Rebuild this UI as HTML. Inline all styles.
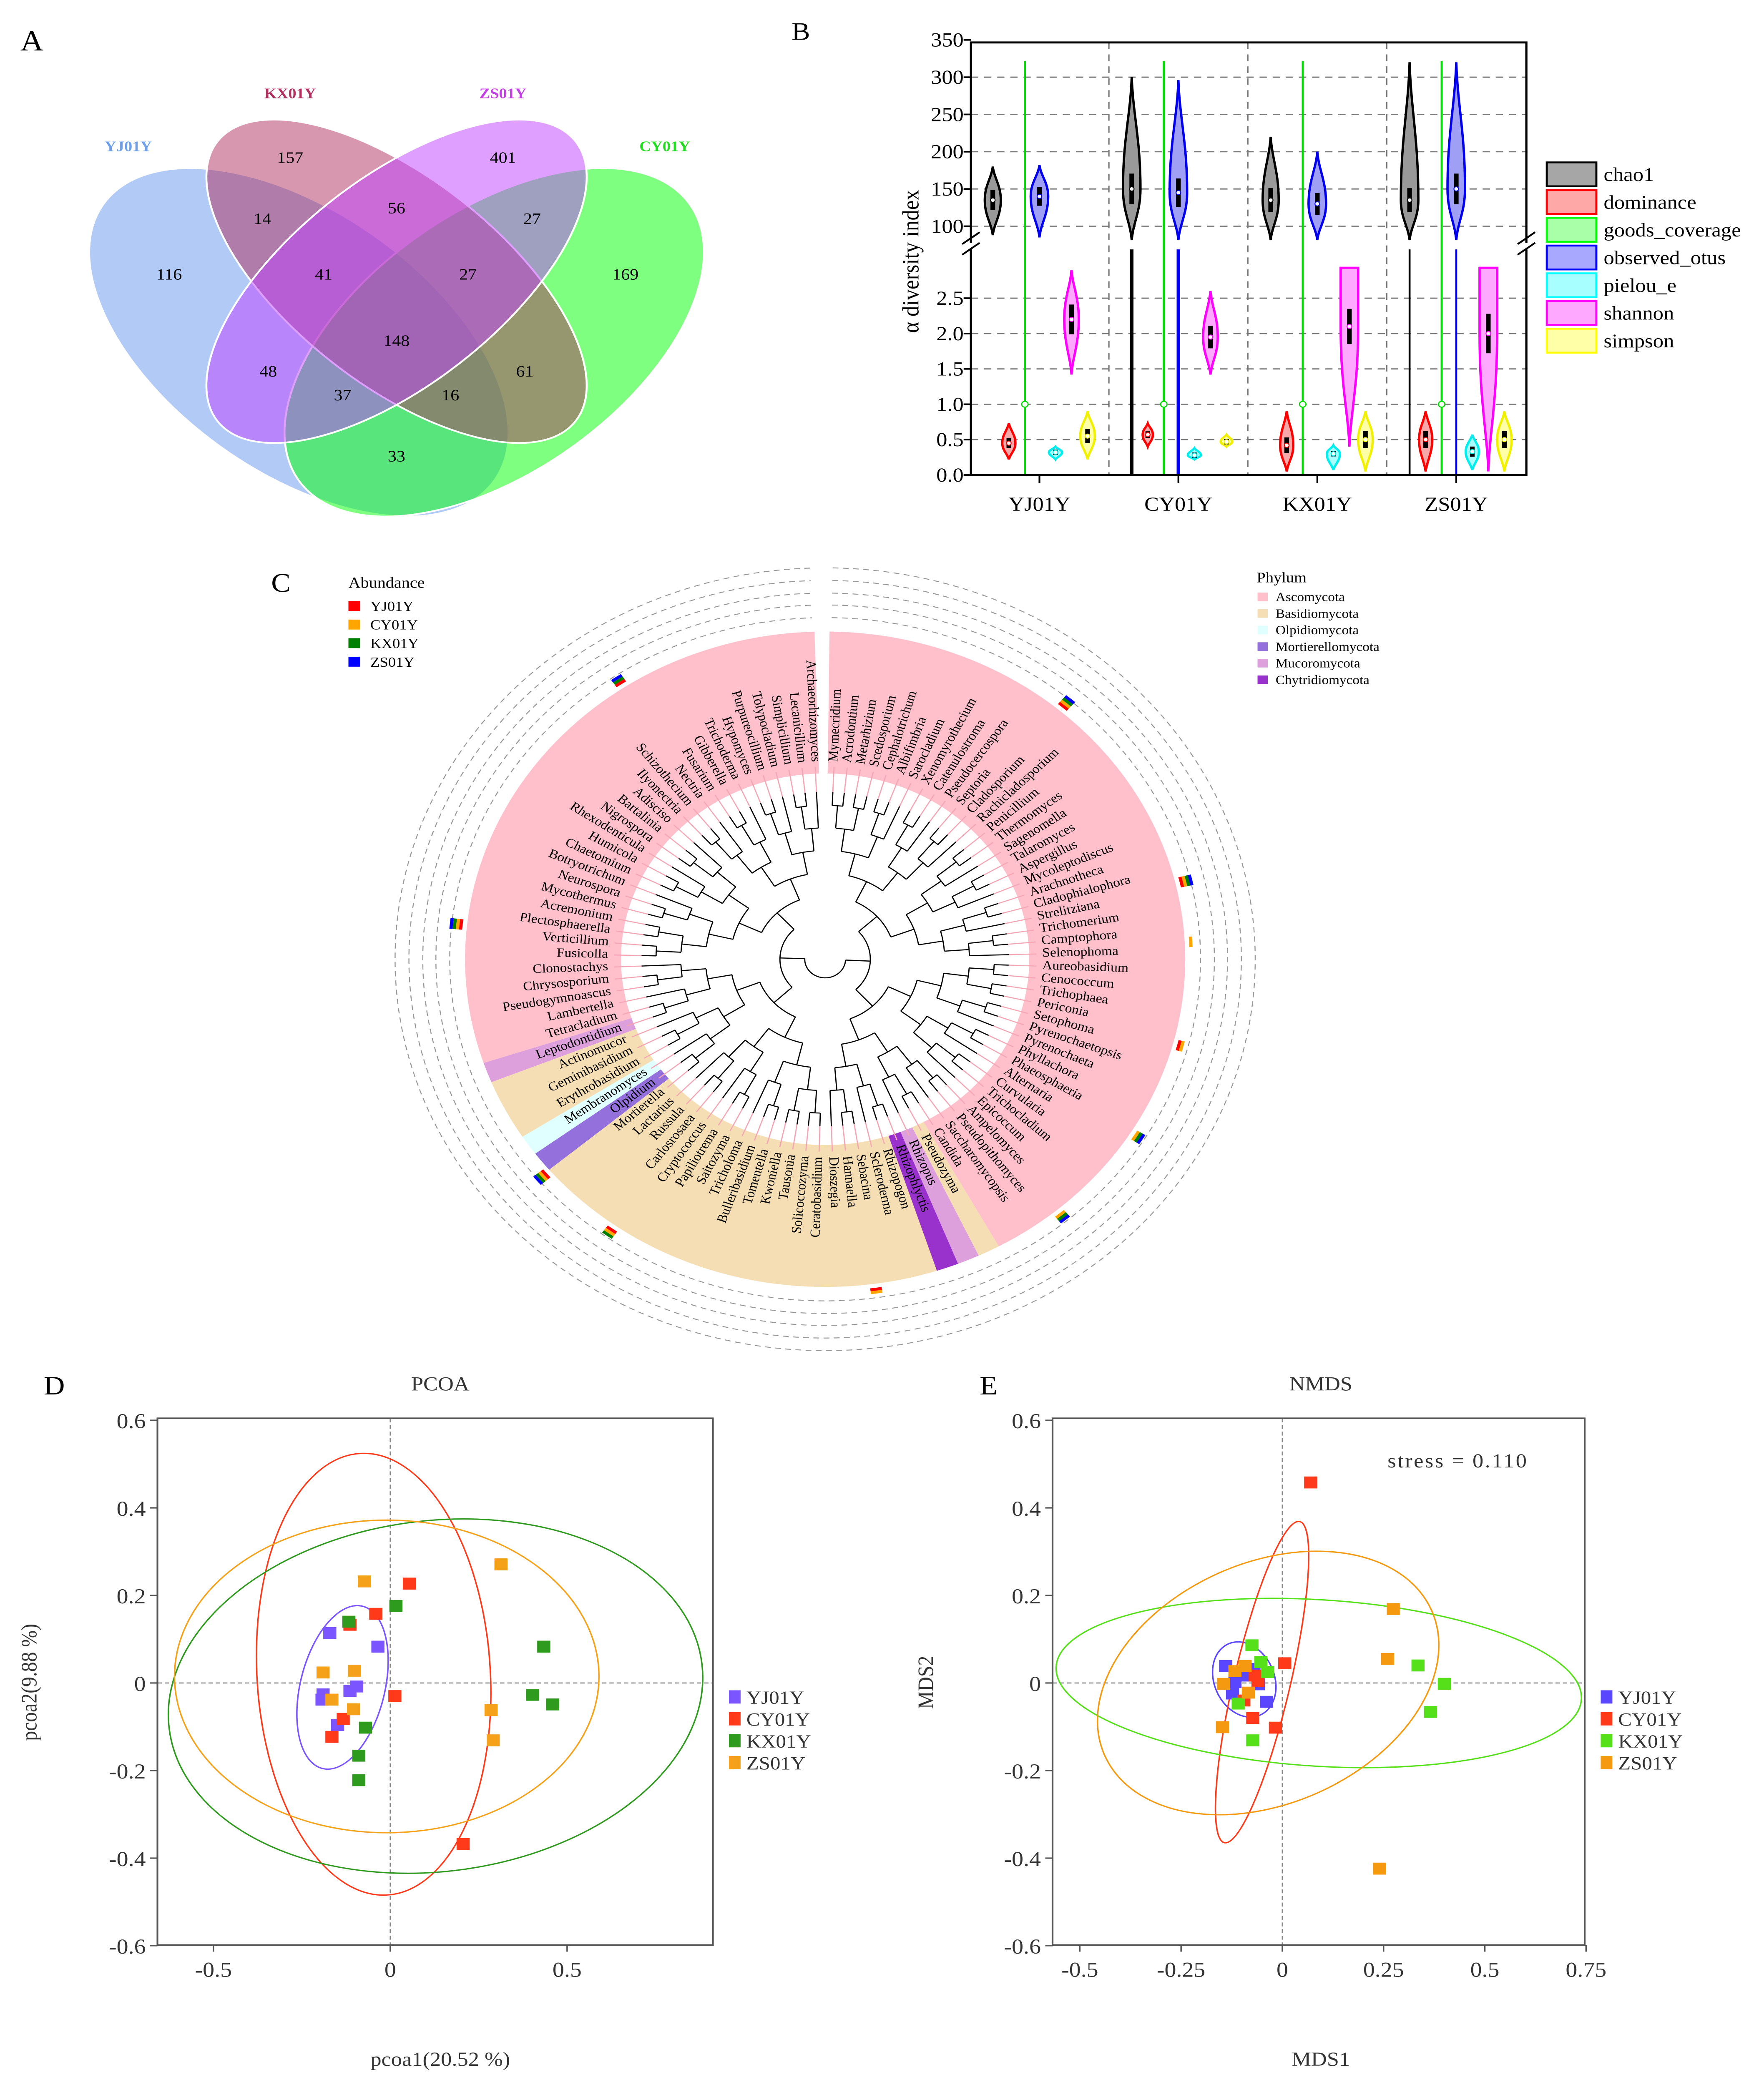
<!DOCTYPE html>
<html><head><meta charset="utf-8"><title>Fungal diversity figure</title>
<style>
html,body{margin:0;padding:0;background:#fff;width:100vw;height:100vh;overflow:hidden;}
svg{position:absolute;left:0;top:0;display:block;width:100vw;height:100vh;font-family:"Liberation Serif",serif;}
</style></head>
<body>
<svg id="fig" xmlns="http://www.w3.org/2000/svg" viewBox="0 0 1210 1571.5" preserveAspectRatio="none">
<rect x="0" y="0" width="1210" height="1571.5" fill="#fff"/>

<g>
<text x="14" y="38" font-size="22">A</text>
<ellipse cx="205" cy="258" rx="170" ry="95" transform="rotate(40 205 258)" fill="#6495ED" fill-opacity="0.5" stroke="#fff" stroke-width="1.3"/>
<ellipse cx="339" cy="258" rx="170" ry="95" transform="rotate(-40 339 258)" fill="#00ff00" fill-opacity="0.5" stroke="#fff" stroke-width="1.3"/>
<ellipse cx="272" cy="212" rx="162" ry="75" transform="rotate(42 272 212)" fill="#b03060" fill-opacity="0.5" stroke="#fff" stroke-width="1.3"/>
<ellipse cx="272" cy="212" rx="162" ry="75" transform="rotate(-42 272 212)" fill="#c040ff" fill-opacity="0.5" stroke="#fff" stroke-width="1.3"/>
<g font-size="12" text-anchor="middle" dominant-baseline="middle">
<text x="199" y="120">157</text><text x="345" y="120">401</text><text x="116" y="208">116</text><text x="429" y="208">169</text>
<text x="180" y="166">14</text><text x="272" y="158">56</text><text x="365" y="166">27</text><text x="222" y="208">41</text>
<text x="321" y="208">27</text><text x="272" y="258">148</text><text x="184" y="281">48</text><text x="360" y="281">61</text>
<text x="235" y="299">37</text><text x="309" y="299">16</text><text x="272" y="345">33</text>
</g>
<g font-size="11" font-weight="bold" text-anchor="middle">
<text x="199" y="74" fill="#b03060">KX01Y</text><text x="345" y="74" fill="#c040e0">ZS01Y</text>
<text x="88" y="114" fill="#6f9fe8">YJ01Y</text><text x="456" y="114" fill="#22dd22">CY01Y</text>
</g>
</g>

<text x="543" y="30" font-size="19">B</text>
<g id="panelB"></g>
<text x="186" y="446" font-size="20">C</text>
<g id="panelC"></g>
<g id="panelD"></g>
<g id="panelE"></g>
</svg>

<script>
const NS='http://www.w3.org/2000/svg';
function mk(tag,attrs,parent){const e=document.createElementNS(NS,tag);for(const k in attrs)e.setAttribute(k,attrs[k]);parent.appendChild(e);return e;}

/* ================= Panel B data ================= */
const bGroups=['YJ01Y','CY01Y','KX01Y','ZS01Y'];
const bMetrics=['chao1','dominance','goods_coverage','observed_otus','pielou_e','shannon','simpson'];
const chao1Min=[88,60,60,60], chao1Med=[135,150,135,135], chao1Max=[180,300,220,320];
const otusMin=[85,60,60,60], otusMed=[140,145,130,150], otusMax=[182,296,200,320];
const dominanceMin=[0.22,0.4,0.05,0.05], dominanceMed=[0.45,0.57,0.42,0.5], dominanceMax=[0.73,0.73,0.9,0.9];
const goodsValue=[1.0,1.0,1.0,1.0];
const pielouMin=[0.22,0.22,0.07,0.07], pielouMed=[0.32,0.28,0.3,0.33], pielouMax=[0.4,0.38,0.42,0.57];
const shannonMin=[1.42,1.42,0.4,0.05], shannonMed=[2.2,1.95,2.1,2.0], shannonMax=[2.9,2.6,2.93,2.93];
const simpsonMin=[0.22,0.4,0.05,0.05], simpsonMed=[0.55,0.47,0.5,0.5], simpsonMax=[0.9,0.57,0.9,0.9];
const chao1Tail=[0,1,0,1], otusTail=[0,1,0,1];
const bUpperTicks=[100,150,200,250,300,350];
const bLowerTicks=[0.0,0.5,1.0,1.5,2.0,2.5];

(function(){
const G=document.getElementById('panelB');
const L=666,R=1047,T=32,B=358;
const yU=v=>170.5-(v-100)*(140.4/250);
const yL=v=>358-v*53.3;
const gx=i=>713+i*95.3;
const off=[-32,-21,-10,0,11,22,33];
bUpperTicks.forEach(v=>{const y=yU(v);
 if(v<350){const g=mk('line',{x1:L,x2:R,y1:y,y2:y,stroke:'#777','stroke-width':0.9,'stroke-dasharray':'5,4'},G);
 
 }
 const t=mk('text',{x:L-5,y:y+5,'font-size':15,'text-anchor':'end'},G);t.textContent=v;
 
 
 const tk=mk('line',{x1:L-5,x2:L,y1:y,y2:y,stroke:'#000','stroke-width':1.2},G);
 
 });
bLowerTicks.forEach(v=>{const y=yL(v);
 if(v>0){const g=mk('line',{x1:L,x2:R,y1:y,y2:y,stroke:'#777','stroke-width':0.9,'stroke-dasharray':'5,4'},G);
 
 }
 const t=mk('text',{x:L-5,y:y+5,'font-size':15,'text-anchor':'end'},G);t.textContent=v.toFixed(1);
 
 
 const tk=mk('line',{x1:L-5,x2:L,y1:y,y2:y,stroke:'#000','stroke-width':1.2},G);
 
 });
[0,1,2].forEach(i=>{const x=(gx(i)+gx(i+1))/2;
 const s=mk('line',{x1:x,x2:x,y1:T,y2:B,stroke:'#777','stroke-width':0.9,'stroke-dasharray':'5,4'},G);
 
 });
function violin(cx,yTop,yMed,yBot,hw,stroke,fill,flat,name){
 const a=yMed-yTop,b=yBot-yMed;let d;
 if(flat){d=`M${cx-hw},${yTop} L${cx+hw},${yTop} L${cx+hw},${yMed} C${cx+hw},${yMed+b*0.5} ${cx+1},${yBot-b*0.3} ${cx},${yBot} C${cx-1},${yBot-b*0.3} ${cx-hw},${yMed+b*0.5} ${cx-hw},${yMed} Z`;}
 else d=`M${cx},${yTop} C${cx+1},${yTop+a*0.35} ${cx+hw},${yMed-a*0.45} ${cx+hw},${yMed} C${cx+hw},${yMed+b*0.45} ${cx+1},${yBot-b*0.35} ${cx},${yBot} C${cx-1},${yBot-b*0.35} ${cx-hw},${yMed+b*0.45} ${cx-hw},${yMed} C${cx-hw},${yMed-a*0.45} ${cx-1},${yTop+a*0.35} ${cx},${yTop} Z`;
 const p=mk('path',{d:d,fill:fill,stroke:stroke,'stroke-width':1.6},G);
 
 
 const h=Math.max(4,Math.min(a,b)*0.6);
 const bx=mk('rect',{x:cx-1.6,y:yMed-h/2,width:3.2,height:h,fill:'#000'},G);
 
 
 const c=mk('circle',{cx:cx,cy:yMed,r:1.6,fill:'#fff',stroke:stroke,'stroke-width':0.6},G);
 
 }
bGroups.forEach((g,i)=>{const c=gx(i);
 const gl=mk('line',{x1:c+off[2],x2:c+off[2],y1:46,y2:B,stroke:'#00dd00','stroke-width':1.4},G);
 
 
 const gd=mk('circle',{cx:c+off[2],cy:yL(goodsValue[i]),r:2.2,fill:'#fff',stroke:'#00dd00','stroke-width':0.8},G);
 
 
 if(chao1Tail[i]){const l=mk('line',{x1:c+off[0],x2:c+off[0],y1:188,y2:B,stroke:'#000','stroke-width':i==1?2.4:1.3},G);
  
  }
 if(otusTail[i]){const l=mk('line',{x1:c+off[3],x2:c+off[3],y1:188,y2:B,stroke:'#0000ee','stroke-width':i==1?2.4:1.3},G);
  
  }
 violin(c+off[0],yU(chao1Max[i]),yU(chao1Med[i]),Math.min(yU(chao1Min[i]),181),i%2?6:5.5,'#000','#999',false,'chao1-violin-'+g);
 violin(c+off[3],yU(otusMax[i]),yU(otusMed[i]),Math.min(yU(otusMin[i]),181),6,'#0000ee','#9fa0f5',false,'otus-violin-'+g);
 violin(c+off[1],yL(dominanceMax[i]),yL(dominanceMed[i]),yL(dominanceMin[i]),i==1?3.5:4.5,'#ff0000','#f8a8a8',false,'dominance-violin-'+g);
 violin(c+off[4],yL(pielouMax[i]),yL(pielouMed[i]),yL(pielouMin[i]),4.5,'#00eeee','#a8ffff',false,'pielou-violin-'+g);
 violin(c+off[5],yL(shannonMax[i]),yL(shannonMed[i]),yL(shannonMin[i]),i>=2?6:5,'#ff00ff','#ffa8ff',shannonMax[i]>=2.92,'shannon-violin-'+g);
 violin(c+off[6],yL(simpsonMax[i]),yL(simpsonMed[i]),yL(simpsonMin[i]),i==1?4:5,'#f0f000','#ffffa8',false,'simpson-violin-'+g);
 const t=mk('text',{x:c,y:385,'font-size':15,'text-anchor':'middle'},G);t.textContent=g;
 
 
 const tk=mk('line',{x1:c,x2:c,y1:B,y2:B+6,stroke:'#000','stroke-width':1.2},G);
 
 });
const fr=mk('path',{d:`M${L},183 L${L},${T} L${R},${T} L${R},183 M${L},188 L${L},${B} L${R},${B} L${R},188`,fill:'none',stroke:'#000','stroke-width':1.5},G);


[L,R].forEach(x=>{const br=mk('path',{d:`M${x-6},184 L${x+6},175 M${x-6},192 L${x+6},183`,stroke:'#000','stroke-width':1.3,fill:'none'},G);
 
 });
const yl=mk('text',{x:0,y:0,'font-size':16,'text-anchor':'middle',transform:'translate(630,197) rotate(-90)'},G);yl.textContent='α diversity index';


const lf=['#a6a6a6','#ffa8a8','#a8ffa8','#a8a8ff','#a8ffff','#ffa8ff','#ffffa8'];
const ls=['#000','#ff0000','#00ff00','#0000ff','#00ffff','#ff00ff','#ffff00'];
bMetrics.forEach((m,k)=>{const y=122.4+k*20.9;
 const r=mk('rect',{x:1061,y:y,width:34,height:18,fill:lf[k],stroke:ls[k],'stroke-width':1.4},G);
 
 
 const t=mk('text',{x:1100,y:y+14,'font-size':14.5},G);t.textContent=m;
 
 });
})();

/* ================= Panel C data ================= */
const leafNames=['Mymecridium','Acrodontium','Metarhizium','Scedosporium','Cephalotrichum','Albifimbria','Sarocladium','Xenomyrothecium','Catenulostroma','Pseudocercospora','Septoria','Cladosporium','Rachicladosporium','Penicillium','Thermomyces','Sagenomella','Talaromyces','Aspergillus','Mycoleptodiscus','Arachnotheca','Cladophialophora','Strelitziana','Trichomerium','Camptophora','Selenophoma','Aureobasidium','Cenococcum','Trichophaea','Periconia','Setophoma','Pyrenochaetopsis','Pyrenochaeta','Phyllachora','Phaeosphaeria','Alternaria','Curvularia','Trichocladium','Epicoccum','Ampelomyces','Pseudopithomyces','Saccharomycopsis','Candida','Pseudozyma','Rhizopus','Rhizophlyctis','Rhizopogon','Scleroderma','Sebacina','Hannaella','Dioszegia','Ceratobasidium','Solicoccozyma','Tausonia','Kwoniella','Tomentella','Bulleribasidium','Tricholoma','Saitozyma','Papiliotrema','Cryptococcus','Carlosrosaea','Russula','Lactarius','Mortierella','Olpidium','Membranomyces','Erythrobasidium','Geminibasidium','Actinomucor','Leptodontidium','Tetracladium','Lambertella','Pseudogymnoascus','Chrysosporium','Clonostachys','Fusicolla','Verticillium','Plectosphaerella','Acremonium','Mycothermus','Neurospora','Botryotrichum','Chaetomium','Humicola','Rhexodenticula','Nigrospora','Bartalinia','Adisciso','Ilyonectria','Schizothecium','Nectria','Fusarium','Gibberella','Trichoderma','Hypomyces','Purpureocillium','Tolypocladium','Simplicillium','Lecanicillium','Archaeorhizomyces'];
const leafPhylum='AAAAAAAAAAAAAAAAAAAAAAAAAAAAAAAAAAAAAAAAAABUCBBBBBBBBBBBBBBBBBBBROBBBUAAAAAAAAAAAAAAAAAAAAAAAAAAAAAAA';
const phylumNames=['Ascomycota','Basidiomycota','Olpidiomycota','Mortierellomycota','Mucoromycota','Chytridiomycota'];
const phylumCodes=['A','B','O','R','U','C'];
const abundanceNames=['YJ01Y','CY01Y','KX01Y','ZS01Y'];
const abundanceAngles=[40.6,76.6,87,105,122,140,172,215.7,229.8,276,326];
const abundanceYJ=[1,1,0,1,0,0,1,1,1,1,1];
const abundanceCY=[1,1,1,1,1,1,1,1,1,1,0];
const abundanceKX=[1,1,0,0,1,1,0,1,1,1,1];
const abundanceZS=[1,1,0,0,1,1,0,0,1,1,1];

(function(){
const G=document.getElementById('panelC');
const CX=566,CY=723;
const colors={A:'#ffc0cb',B:'#f5deb3',O:'#e0ffff',R:'#9370db',U:'#dda0dd',C:'#9932cc'};
const n=leafNames.length,a0=2.4,a1=357.3,step=(a1-a0)/(n-1);
const ang=i=>a0+i*step;
const P=(r,a)=>{const t=a*Math.PI/180;return [CX+r*Math.sin(t),CY-r*Math.cos(t)];};
function sector(r0,r1,aa,ab){const p1=P(r1,aa),p2=P(r1,ab),p3=P(r0,ab),p4=P(r0,aa);const lg=(ab-aa)>180?1:0;
 return `M${p1[0]},${p1[1]} A${r1},${r1} 0 ${lg} 1 ${p2[0]},${p2[1]} L${p3[0]},${p3[1]} A${r0},${r0} 0 ${lg} 0 ${p4[0]},${p4[1]} Z`;}
[257.5,267,276,285.5,295].forEach(r=>{const c=mk('path',{d:(()=>{const p1=P(r,1),p2=P(r,358);return `M${p1[0]},${p1[1]} A${r},${r} 0 1 1 ${p2[0]},${p2[1]}`})(),fill:'none',stroke:'#999','stroke-width':0.7,'stroke-dasharray':'4,3'},G);
 
 });
let i=0;while(i<n){let j=i;while(j+1<n&&leafPhylum[j+1]===leafPhylum[i])j++;
 const aa=i===0?0.7:ang(i)-step/2, ab=j===n-1?358.3:ang(j)+step/2;
 const s=mk('path',{d:sector(140,247,aa,ab),fill:colors[leafPhylum[i]]},G);
 
 
 i=j+1;}
const w=mk('path',{d:sector(0.01,140,0.7,358.3),fill:'#fff'},G);


function build(lo,hi,depth){
 if(lo===hi)return {a:ang(lo),r:140,leaf:true};
 const mid=Math.floor((lo+hi)/2);
 const L=build(lo,mid,depth+1),R=build(mid+1,hi,depth+1);
 const r=Math.min(14+depth*17,130);
 [L,R].forEach(ch=>{
  const end=ch.leaf?Math.max(r,126):ch.r;
  const p1=P(r,ch.a),p2=P(end,ch.a);
  const l=mk('line',{x1:p1[0],y1:p1[1],x2:p2[0],y2:p2[1],stroke:'#000','stroke-width':0.8},G);
  
  
  if(ch.leaf){const q1=P(end,ch.a),q2=P(145,ch.a);
   const pl=mk('line',{x1:q1[0],y1:q1[1],x2:q2[0],y2:q2[1],stroke:'#f4a6b5','stroke-width':0.8},G);
   
   }});
 const q1=P(r,L.a),q2=P(r,R.a);
 const arc=mk('path',{d:`M${q1[0]},${q1[1]} A${r},${r} 0 ${(R.a-L.a)>180?1:0} 1 ${q2[0]},${q2[1]}`,fill:'none',stroke:'#000','stroke-width':0.8},G);
 
 
 return {a:(L.a+R.a)/2,r:r,leaf:false};}
build(0,n-1,0);
leafNames.forEach((nm,k)=>{const a=ang(k);const p=P(149,a);
 const right=a<180;
 const t=mk('text',{x:p[0],y:p[1],'font-size':9.6,'text-anchor':right?'start':'end','dominant-baseline':'middle',transform:`rotate(${right?a-90:a+90} ${p[0]} ${p[1]})`},G);
 t.textContent=nm;
 
 });
const acol=['#ff0000','#ffa500','#008000','#0000ff'];
const arrs=[abundanceYJ,abundanceCY,abundanceKX,abundanceZS];
abundanceAngles.forEach((a,k)=>{let r=250;
 arrs.forEach((arr,s)=>{if(arr[k]){const h=2.2;const d=sector(r,r+h,a-0.9,a+0.9);
  const m=mk('path',{d:d,fill:acol[s]},G);
  
  
  r+=h;}});});
const at=mk('text',{x:239,y:443,'font-size':11.5},G);at.textContent='Abundance';


abundanceNames.forEach((nm,k)=>{const y=453+k*14;
 const r=mk('rect',{x:239,y:y,width:8,height:7.5,fill:acol[k]},G);
 
 
 const t=mk('text',{x:254,y:y+7.5,'font-size':10.5},G);t.textContent=nm;
 
 });
const pt=mk('text',{x:862,y:439,'font-size':11},G);pt.textContent='Phylum';


phylumNames.forEach((nm,k)=>{const y=446.6+k*12.5;
 const r=mk('rect',{x:862.6,y:y,width:7,height:6.5,fill:colors[phylumCodes[k]]},G);
 
 
 const t=mk('text',{x:875,y:y+6.5,'font-size':9.5},G);t.textContent=nm;
 
 });
})();

/* ================= Panels D & E data ================= */
const groupNames=['YJ01Y','CY01Y','KX01Y','ZS01Y'];
const pcoaYJx=[-0.171,-0.035,-0.19,-0.193,-0.114,-0.095,-0.149], pcoaYJy=[0.114,0.083,-0.026,-0.038,-0.018,-0.008,-0.096];
const pcoaCYx=[0.054,-0.041,-0.114,0.013,-0.133,-0.165,0.206], pcoaCYy=[0.227,0.158,0.133,-0.03,-0.082,-0.123,-0.368];
const pcoaKXx=[0.016,-0.117,0.434,0.402,0.459,-0.07,-0.089,-0.089], pcoaKXy=[0.176,0.14,0.083,-0.027,-0.049,-0.102,-0.166,-0.222];
const pcoaZSx=[-0.073,0.313,-0.19,-0.101,-0.165,-0.104,0.285,0.291], pcoaZSy=[0.232,0.271,0.024,0.028,-0.038,-0.06,-0.062,-0.131];
const pcoaEllCx=[-0.135,-0.047,0.128,-0.01], pcoaEllCy=[-0.01,0.02,-0.03,0.015];
const pcoaEllRx=[0.12,0.33,0.76,0.6], pcoaEllRy=[0.19,0.505,0.4,0.357], pcoaEllAng=[12,-3,-9,0];
const nmdsYJx=[-0.14,-0.117,-0.123,-0.092,-0.059,-0.039,-0.07], nmdsYJy=[0.039,0.002,-0.024,0.017,-0.003,-0.043,0.032];
const nmdsCYx=[0.07,0.006,-0.073,-0.017,-0.095,-0.067,-0.06], nmdsCYy=[0.458,0.045,-0.08,-0.102,-0.04,0.017,0.005];
const nmdsKXx=[-0.075,-0.053,-0.036,-0.109,-0.073,0.335,0.4,0.366], nmdsKXy=[0.086,0.048,0.025,-0.047,-0.131,0.04,-0.002,-0.066];
const nmdsZSx=[0.274,0.26,0.24,-0.148,-0.145,-0.117,-0.092,-0.084], nmdsZSy=[0.169,0.055,-0.424,-0.101,-0.002,0.027,0.039,-0.022];
const nmdsEllCx=[-0.094,-0.05,0.09,-0.035], nmdsEllCy=[0.008,0.002,0.0,0.0];
const nmdsEllRx=[0.075,0.07,0.65,0.45], nmdsEllRy=[0.088,0.375,0.19,0.27], nmdsEllAng=[-18,12,4,-30];
const pcoaXTicks=[-0.5,0,0.5], nmdsXTicks=[-0.5,-0.25,0,0.25,0.5,0.75];
const yTicksDE=[0.6,0.4,0.2,0,-0.2,-0.4,-0.6];

function scatterPanel(G,o){
 const X=v=>o.x0+v*o.xs, Y=v=>1268.5-v*330;
 const L=o.L,R=o.R,T=1069,B=1466;
 const tl=mk('text',{x:o.labX,y:1051,'font-size':20},G);tl.textContent=o.letter;
 
 
 const tt=mk('text',{x:o.titleX,y:1048,'font-size':15,'text-anchor':'middle',fill:'#333'},G);tt.textContent=o.title;
 
 
 const z1=mk('line',{x1:L,x2:R,y1:Y(0),y2:Y(0),stroke:'#888','stroke-width':0.8,'stroke-dasharray':'3,2'},G);
 
 
 const z2=mk('line',{x1:X(0),x2:X(0),y1:T,y2:B,stroke:'#888','stroke-width':0.8,'stroke-dasharray':'3,2'},G);
 
 
 const fr=mk('rect',{x:L,y:T,width:R-L,height:B-T,fill:'none',stroke:'#555','stroke-width':1.2},G);
 
 
 yTicksDE.forEach(v=>{const y=Y(v);
  const tk=mk('line',{x1:L-5,x2:L,y1:y,y2:y,stroke:'#555','stroke-width':1},G);
  
  
  const t=mk('text',{x:L-8,y:y+6,'font-size':16,'text-anchor':'end',fill:'#333'},G);t.textContent=String(v);
  
  });
 o.xTicks.forEach(v=>{const x=X(v);
  const tk=mk('line',{x1:x,x2:x,y1:B,y2:B+5,stroke:'#555','stroke-width':1},G);
  
  
  const t=mk('text',{x:x,y:1490,'font-size':16,'text-anchor':'middle',fill:'#333'},G);t.textContent=String(v);
  
  });
 const xl=mk('text',{x:o.titleX,y:1557,'font-size':15,'text-anchor':'middle',fill:'#333'},G);xl.textContent=o.xLabel;
 
 
 const yl=mk('text',{x:0,y:0,'font-size':15,'text-anchor':'middle',fill:'#333',transform:`translate(${o.yLabX},1268) rotate(-90)`},G);yl.textContent=o.yLabel;
 
 
 o.ell.cx.forEach((c,k)=>{const cx=X(c),cy=Y(o.ell.cy[k]);
  const e=mk('ellipse',{cx:cx,cy:cy,rx:o.ell.rx[k]*o.xs,ry:o.ell.ry[k]*330,transform:`rotate(${o.ell.ang[k]} ${cx} ${cy})`,fill:'none',stroke:o.colors[k],'stroke-width':1},G);
  
  });
 o.pts.forEach((pp,k)=>{pp[0].forEach((vx,m)=>{
  const r=mk('rect',{x:X(vx)-4.5,y:Y(pp[1][m])-4.5,width:9,height:9,fill:o.colors[k]},G);
  
  });});
 groupNames.forEach((g,k)=>{const y=1279+k*16.5;
  const r=mk('rect',{x:o.legX,y:y-5,width:8,height:10,fill:o.colors[k]},G);
  
  
  const t=mk('text',{x:o.legX+12,y:y+5,'font-size':14,fill:'#333'},G);t.textContent=g;
  
  });
}
scatterPanel(document.getElementById('panelD'),{letter:'D',labX:30,title:'PCOA',titleX:302,L:108,R:489,x0:267.7,xs:242.6,xTicks:pcoaXTicks,
 xLabel:'pcoa1(20.52 %)',yLabel:'pcoa2(9.88 %)',yLabX:25,legX:500,
 colors:['#7b55ff','#ff3a1a','#2e9a1e','#f5a21a'],
 ell:{cx:pcoaEllCx,cy:pcoaEllCy,rx:pcoaEllRx,ry:pcoaEllRy,ang:pcoaEllAng},
 pts:[[pcoaYJx,pcoaYJy],[pcoaCYx,pcoaCYy],[pcoaKXx,pcoaKXy],[pcoaZSx,pcoaZSy]]});
scatterPanel(document.getElementById('panelE'),{letter:'E',labX:672,title:'NMDS',titleX:906,L:722,R:1087,x0:879.6,xs:277.8,xTicks:nmdsXTicks,
 xLabel:'MDS1',yLabel:'MDS2',yLabX:640,legX:1098,
 colors:['#5a46ff','#ff3a1a','#55e01a','#f59a10'],
 ell:{cx:nmdsEllCx,cy:nmdsEllCy,rx:nmdsEllRx,ry:nmdsEllRy,ang:nmdsEllAng},
 pts:[[nmdsYJx,nmdsYJy],[nmdsCYx,nmdsCYy],[nmdsKXx,nmdsKXy],[nmdsZSx,nmdsZSy]]});
(function(){const t=mk('text',{x:1000,y:1106,'font-size':15,'text-anchor':'middle',fill:'#333','letter-spacing':'1'},document.getElementById('panelE'));
t.textContent='stress = 0.110';

})();
</script>
</body></html>
